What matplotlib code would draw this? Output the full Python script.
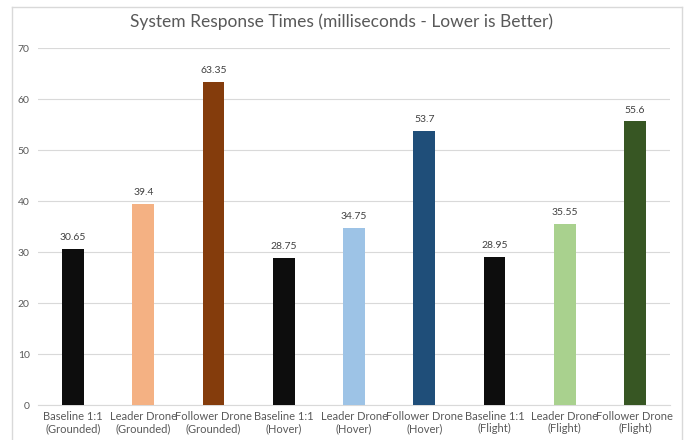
import matplotlib
matplotlib.use("Agg")
import matplotlib.pyplot as plt
from matplotlib.lines import Line2D
import numpy as np

categories = [
    "Baseline 1:1\n(Grounded)", "Leader Drone\n(Grounded)", "Follower Drone\n(Grounded)",
    "Baseline 1:1\n(Hover)", "Leader Drone\n(Hover)", "Follower Drone\n(Hover)",
    "Baseline 1:1\n(Flight)", "Leader Drone\n(Flight)", "Follower Drone\n(Flight)",
]
values = [30.65, 39.4, 63.35, 28.75, 34.75, 53.7, 28.95, 35.55, 55.6]
value_labels = ["30.65", "39.4", "63.35", "28.75", "34.75", "53.7", "28.95", "35.55", "55.6"]
colors = ["#0d0d0d", "#f4b183", "#843c0c",
          "#0d0d0d", "#9dc3e6", "#1f4e79",
          "#0d0d0d", "#a9d18e", "#375623"]
yticks = [0, 10, 20, 30, 40, 50, 60, 70]

plt.rcParams['font.family'] = ['Lato', 'DejaVu Sans']

fig = plt.figure(figsize=(6.84, 4.4), dpi=100)
ax = fig.add_axes([0.0556, 0.0795, 0.924, 0.8114])

x = np.arange(len(values))
ax.bar(x, values, width=0.31, color=colors, zorder=3)
for xi, v, lab in zip(x, values, value_labels):
    ax.annotate(lab, (xi, v), xytext=(0, 5), textcoords="offset points",
                ha="center", va="bottom", fontsize=7.5, color="#404040")

ax.set_xlim(-0.5, len(values) - 0.5)
ax.set_ylim(0, 70)
ax.set_yticks(yticks)
ax.set_xticks(x)
ax.set_xticklabels(categories, fontsize=8, color="#595959", linespacing=1.2)
ax.tick_params(axis="y", labelsize=7.5, labelcolor="#595959", length=0, pad=6)
ax.tick_params(axis="x", length=0, pad=4)
ax.grid(axis="y", color="#d9d9d9", linewidth=0.8, zorder=0)
for s in ["top", "right", "left"]:
    ax.spines[s].set_visible(False)
ax.spines["bottom"].set_color("#d9d9d9")

fig.text(0.5, 1 - 22 / 440, "System Response Times (milliseconds - Lower is Better)",
         ha="center", va="center", fontsize=12.5, color="#595959")

# chart frame
W, H = 684, 440
frame = dict(color="#d9d9d9", linewidth=1, transform=fig.transFigure)
fig.add_artist(Line2D([12 / W, 12 / W], [0, 1 - 7 / H], **frame))
fig.add_artist(Line2D([12 / W, 682 / W], [1 - 7 / H, 1 - 7 / H], **frame))
fig.add_artist(Line2D([682 / W, 682 / W], [0, 1 - 7 / H], **frame))

fig.savefig("out.png", dpi=100)
